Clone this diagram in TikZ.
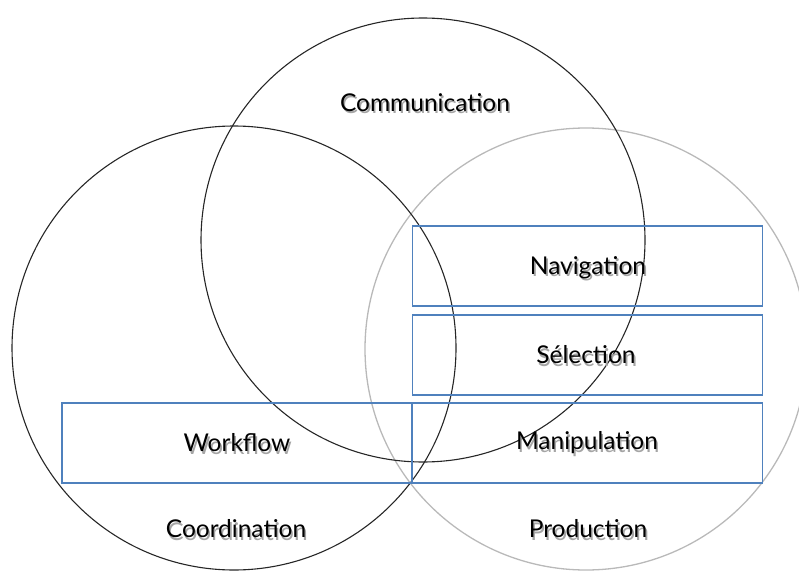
\documentclass[tikz,border=0pt]{standalone}
\usepackage{fontspec}
\setmainfont{Lato}
\definecolor{boxblue}{RGB}{79,129,189}
\definecolor{ringgray}{RGB}{185,185,185}
\definecolor{shadowgray}{RGB}{165,165,165}
\tikzset{
  ring/.style={circle, draw=black!85, line width=1.1pt, minimum size=444pt, inner sep=0pt},
  lightring/.style={circle, draw=ringgray, line width=1.3pt, minimum size=442pt, inner sep=0pt},
  areabox/.style={rectangle, draw=boxblue, line width=1.3pt, minimum width=350pt, minimum height=80pt, inner sep=0pt},
  lbl/.style={font=\fontsize{24.5}{28}\selectfont, text=black, inner sep=0pt},
}
\newcommand{\shtext}[1]{%
  \rlap{\kern1.6pt\raisebox{-2.2pt}{\textcolor{shadowgray}{#1}}}#1}
\begin{document}
\begin{tikzpicture}[x=1pt,y=-1pt]
\useasboundingbox (0,0) rectangle (799,572);
% circles
\node[lightring] (prod) at (586,349) {};
\node[ring] (coord) at (234,348) {};
\node[ring] (comm) at (423,240) {};
% boxes
\node[areabox] (nav) at (587.5,266) {};
\node[areabox] (sel) at (587.5,355) {};
\node[areabox] (man) at (587.5,443) {};
\node[areabox] (wf) at (237,443) {};
% labels
\node[lbl] (tcomm) at (425,104) {\shtext{Communication}};
\node[lbl] (tnav) at (588,269) {\shtext{Navigation}};
\node[lbl] (tsel) at (586,356) {\shtext{Sélection}};
\node[lbl] (tman) at (587,444) {\shtext{Manipulation}};
\node[lbl] (twf) at (237,444) {\shtext{Workflow}};
\node[lbl] (tcoord) at (236,530) {\shtext{Coordination}};
\node[lbl] (tprod) at (588,530) {\shtext{Production}};
\end{tikzpicture}
\end{document}
